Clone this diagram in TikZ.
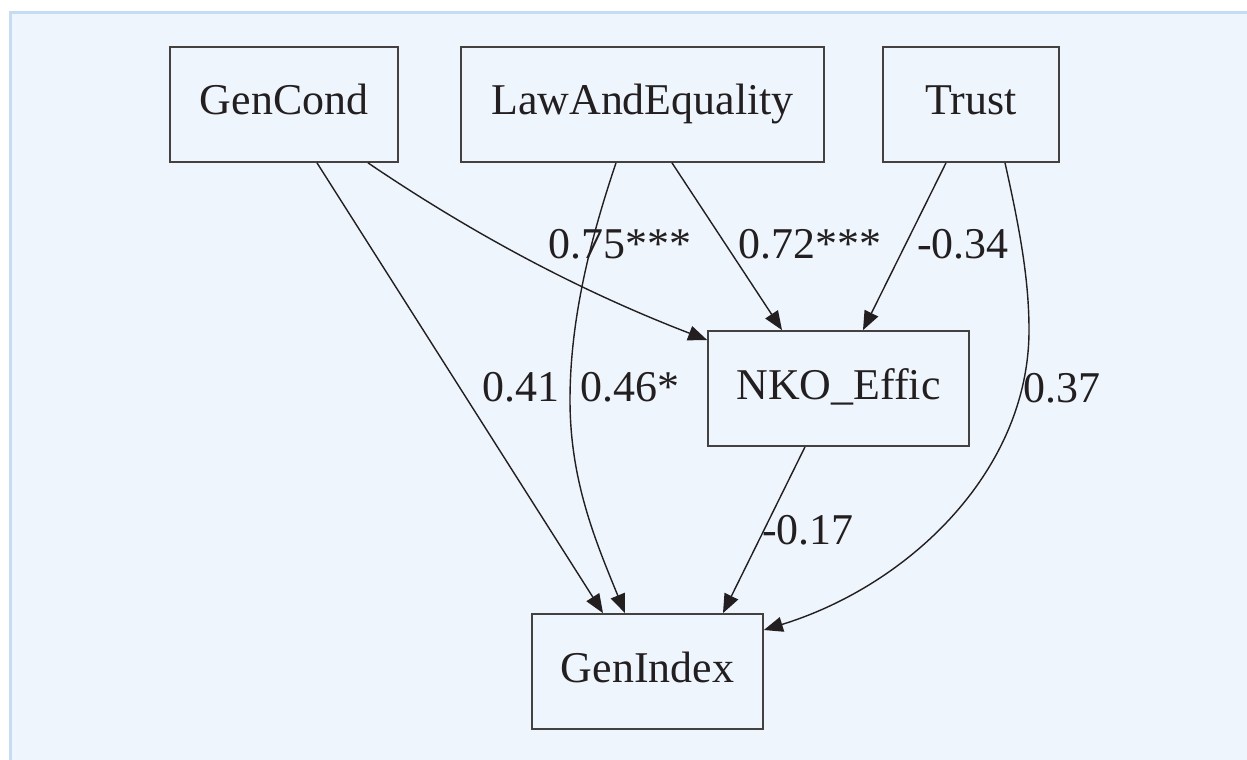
\documentclass[tikz,border=0pt]{standalone}
\usepackage{fontspec}
\setmainfont{Liberation Serif}
\usetikzlibrary{arrows.meta}
\definecolor{pageblue}{HTML}{EEF5FC}
\definecolor{rimblue}{HTML}{C5DCF2}
\definecolor{inkgray}{HTML}{231F20}
\begin{document}
\begin{tikzpicture}[x=0.02cm, y=-0.02cm,
  var/.style={draw=inkgray!85, line width=1pt, minimum height=2.3cm, inner sep=0pt,
    text height=0.6cm, text depth=0.18cm, font=\fontsize{25}{30}\selectfont, text=inkgray},
  effect/.style={draw=inkgray, line width=0.8pt, -{Triangle[length=0.38cm, width=0.3cm]}},
  coef/.style={inner sep=0pt, font=\fontsize{25}{30}\selectfont, text=inkgray}]
\useasboundingbox (0,0) rectangle (1247,760);
\fill[pageblue] (10,12) rectangle (1247,760);
\draw[rimblue, line width=0.06cm] (10.5,760) -- (10.5,12.5) -- (1247,12.5);
% variables
\node[var, minimum width=4.56cm] (gencond) at (284,104.5) {GenCond};
\node[var, minimum width=7.26cm] (law) at (642.5,104.5) {LawAndEquality};
\node[var, minimum width=3.52cm] (trust) at (971,104.5) {Trust};
\node[var, minimum width=5.22cm] (nko) at (838.5,388.5) {NKO\_Effic};
\node[var, minimum width=4.62cm] (genindex) at (647.5,671.5) {GenIndex};
% paths
\draw[effect] ([xshift=0.66cm]gencond.south) -- ([xshift=-0.89cm]genindex.north);
\draw[effect] ([xshift=1.68cm]gencond.south) .. controls (470,232) and (577,290) .. ([yshift=0.97cm]nko.west);
\draw[effect] ([xshift=-0.53cm]law.south) .. controls (590,240) and (570,320) .. (570,400)
  .. controls (570,480) and (595,540) .. ([xshift=-0.45cm]genindex.north);
\draw[effect] ([xshift=0.59cm]law.south) -- ([xshift=-1.13cm]nko.north);
\draw[effect] ([xshift=-0.5cm]trust.south) -- ([xshift=0.49cm]nko.north);
\draw[effect] ([xshift=0.68cm]trust.south) .. controls (1020,230) and (1029,280) .. (1029,330)
  .. controls (1029,470) and (910,585) .. ([yshift=0.83cm]genindex.east);
\draw[effect] ([xshift=-0.67cm]nko.south) -- ([xshift=1.51cm]genindex.north);
% coefficients
\node[coef] (cGenNko) at (620,244) {0.75***};
\node[coef] (cLawNko) at (810,244) {0.72***};
\node[coef] (cTrustNko) at (963,244) {-0.34};
\node[coef] (cGenIdx) at (521,387) {0.41};
\node[coef] (cLawIdx) at (630,387) {0.46*};
\node[coef] (cTrustIdx) at (1062,388) {0.37};
\node[coef] (cNkoIdx) at (808,530) {-0.17};
\end{tikzpicture}
\end{document}
